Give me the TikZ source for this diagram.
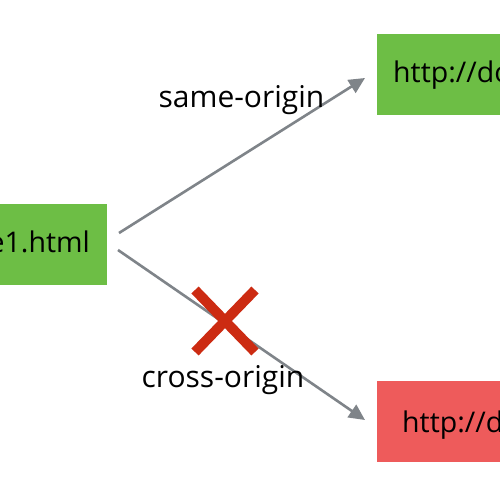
\documentclass[tikz,border=0pt]{standalone}
\usepackage{fontspec}
\setmainfont{Open Sans}
\usetikzlibrary{arrows.meta,calc}

\definecolor{okgreen}{HTML}{6DBE45}
\definecolor{badred}{HTML}{EE5B5B}
\definecolor{crossred}{HTML}{CC2B12}
\definecolor{linkgray}{HTML}{7F8489}

\begin{document}
\begin{tikzpicture}[x=1pt, y=-1pt,
    page/.style={rectangle, draw=none, minimum height=81pt, inner ysep=0pt,
      text height=20pt, text depth=4pt, font=\fontsize{28.5}{34}\selectfont},
    link/.style={draw=linkgray, line width=2.6pt, -{Triangle[length=16pt, width=15pt]}},
    lbl/.style={anchor=base, font=\fontsize{30}{36}\selectfont},
    nope/.style={draw=crossred, line width=10pt}]
            \useasboundingbox (0,0) rectangle (500,500);
            \clip (0,0) rectangle (500,500);
            \fill[white] (0,0) rectangle (500,500);

            % Define pages
            \node[page, fill=okgreen, anchor=east, inner xsep=17pt] (origin) at (107,244.5) {e1.html};
            \node[page, fill=okgreen, anchor=west, inner xsep=16pt] (same) at (377,75) {http://do};
            \node[page, fill=badred, anchor=west, inner xsep=25pt, text height=25pt, text depth=4pt] (cross) at (377,421.5) {http://d};

            % Draw requests
            \draw[link] ($(origin.east)+(12,-11.5)$) -- ($(same.west)+(-12,3)$);
            \draw[link] ($(origin.east)+(11,5.5)$) -- ($(cross.west)+(-12,-1.5)$);

            % Labels
            \node[lbl] (samelbl) at (241.5,107) {same-origin};
            \node[lbl] (crosslbl) at (223,387) {cross-origin};

            % Blocked mark
            \node (block) at (225,321) {};
            \draw[nope] ($(block)+(-30,-31)$) -- ($(block)+(30,31)$);
            \draw[nope] ($(block)+(30,-31)$) -- ($(block)+(-30,31)$);
        \end{tikzpicture}
\end{document}
